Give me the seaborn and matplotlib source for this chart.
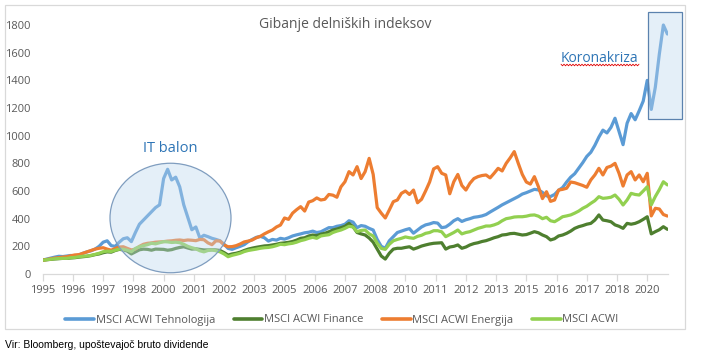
import numpy as np
import pandas as pd
import matplotlib
matplotlib.use("Agg")
import matplotlib.pyplot as plt
import seaborn as sns
from matplotlib.patches import Ellipse, Rectangle

# ---------------- data (bimonthly, Jan 1995 .. Nov 2020) ----------------
SERIES = ["MSCI ACWI Tehnologija", "MSCI ACWI Finance", "MSCI ACWI Energija", "MSCI ACWI"]
COLORS = ["#5B9BD5", "#4E7F2F", "#ED7D31", "#92D050"]

tech = [
    100, 108, 115, 122, 128, 126,      # 1995
    130, 134, 130, 138, 150, 160,      # 1996
    168, 180, 200, 230, 240, 205,      # 1997
    200, 230, 255, 262, 234, 300,      # 1998
    360, 390, 420, 450, 480, 500,      # 1999
    690, 757, 680, 700, 630, 500,      # 2000
    410, 320, 340, 260, 280, 270,      # 2001
    258, 250, 240, 215, 185, 178,      # 2002
    190, 200, 212, 234, 250, 265,      # 2003
    272, 262, 238, 250, 245, 258,      # 2004
    252, 262, 275, 283, 290, 298,      # 2005
    302, 310, 300, 305, 320, 335,      # 2006
    335, 345, 350, 360, 385, 375,      # 2007
    335, 350, 345, 330, 318, 250,      # 2008
    200, 186, 240, 270, 300, 310,      # 2009
    320, 328, 295, 318, 340, 355,      # 2010
    362, 372, 368, 335, 340, 360,      # 2011
    385, 400, 380, 392, 400, 410,      # 2012
    414, 420, 430, 448, 465, 482,      # 2013
    500, 515, 530, 545, 560, 578,      # 2014
    588, 600, 612, 608, 590, 565,      # 2015
    560, 575, 605, 625, 665, 700,      # 2016
    725, 765, 805, 850, 880, 930,      # 2017
    990, 1040, 1020, 1060, 1126, 1030, # 2018
    935, 1090, 1160, 1115, 1180, 1250, # 2019
    1400, 1190, 1350, 1590, 1800, 1735 # 2020
]

finance = [
    100, 103, 106, 109, 111, 113,
    113, 116, 118, 122, 125, 128,
    133, 140, 145, 154, 160, 158,
    170, 178, 175, 165, 145, 160,
    175, 180, 178, 172, 180, 179,
    178, 172, 176, 185, 192, 197,
    188, 180, 182, 178, 174, 174,
    175, 174, 170, 155, 137, 145,
    150, 158, 170, 180, 187, 193,
    198, 203, 205, 210, 215, 222,
    225, 229, 235, 245, 258, 262,
    275, 282, 278, 288, 294, 305,
    318, 325, 335, 345, 366, 342,
    300, 290, 282, 260, 230, 180,
    130, 108, 150, 180, 186, 186,
    192, 197, 180, 190, 202, 210,
    217, 222, 224, 226, 180, 195,
    200, 210, 186, 195, 210, 220,
    226, 235, 241, 251, 262, 270,
    282, 285, 292, 294, 288, 282,
    285, 295, 306, 298, 282, 270,
    246, 255, 275, 282, 294, 310,
    330, 342, 350, 360, 366, 390,
    427, 390, 385, 378, 355, 345,
    330, 366, 360, 366, 378, 395,
    414, 290, 306, 320, 342, 323
]

energy = [
    100, 105, 110, 115, 118, 122,
    125, 132, 138, 140, 150, 160,
    170, 180, 186, 190, 180, 172,
    185, 195, 197, 185, 174, 180,
    200, 215, 222, 225, 230, 232,
    234, 238, 240, 244, 246, 242,
    246, 244, 241, 250, 248, 225,
    212, 240, 238, 210, 197, 198,
    205, 217, 232, 238, 246, 262,
    272, 290, 305, 318, 340, 354,
    405, 395, 440, 465, 487, 455,
    520, 530, 550, 535, 540, 575,
    570, 555, 630, 667, 740, 716,
    776, 690, 740, 836, 720, 480,
    440, 405, 463, 523, 535, 583,
    600, 575, 607, 515, 540, 600,
    665, 760, 776, 728, 716, 580,
    667, 720, 640, 607, 656, 690,
    704, 712, 716, 695, 728, 764,
    745, 800, 840, 885, 800, 720,
    665, 650, 704, 631, 545, 595,
    525, 535, 607, 612, 620, 665,
    660, 650, 640, 627, 680, 716,
    764, 716, 770, 780, 800, 728,
    636, 716, 740, 680, 716, 667,
    728, 420, 475, 470, 430, 419
]

acwi = [
    100, 103, 107, 110, 112, 113,
    113, 118, 120, 125, 128, 130,
    135, 142, 150, 161, 165, 163,
    172, 180, 178, 172, 161, 185,
    197, 205, 212, 222, 218, 226,
    234, 232, 228, 230, 226, 215,
    200, 190, 182, 168, 160, 170,
    174, 168, 160, 145, 125, 135,
    142, 150, 162, 170, 175, 180,
    186, 190, 192, 197, 205, 215,
    212, 218, 222, 230, 241, 248,
    258, 265, 258, 275, 280, 284,
    300, 310, 318, 330, 345, 340,
    306, 315, 318, 290, 275, 222,
    185, 178, 215, 240, 250, 258,
    268, 262, 258, 272, 280, 294,
    300, 313, 313, 305, 270, 285,
    300, 318, 290, 300, 306, 318,
    330, 338, 347, 347, 355, 366,
    385, 400, 405, 412, 414, 414,
    418, 425, 427, 418, 400, 410,
    385, 378, 395, 414, 420, 427,
    440, 455, 475, 490, 511, 530,
    559, 547, 550, 555, 571, 540,
    499, 535, 583, 575, 571, 600,
    631, 500, 560, 610, 667, 644
]

YEAR_LABELS = ["1995", "1996", "1997", "1998", "2000", "2001", "2002", "2003",
               "2005", "2006", "2007", "2008", "2010", "2011", "2012", "2013",
               "2015", "2016", "2017", "2018", "2020"]
Y_TICKS = [0, 200, 400, 600, 800, 1000, 1200, 1400, 1600, 1800]

# ---------------- build table ----------------
dates = pd.date_range("1995-01-01", periods=len(tech), freq="2MS")
month_idx = (dates.year - 1995) * 12 + (dates.month - 1)
frames = []
for name, vals in zip(SERIES, [tech, finance, energy, acwi]):
    frames.append(pd.DataFrame({"m": month_idx, "value": vals, "series": name}))
df = pd.concat(frames, ignore_index=True)

# ---------------- figure ----------------
sns.set_theme(style="white")
plt.rcParams["font.family"] = ["Open Sans", "DejaVu Sans"]

W, H = 704, 357
fig = plt.figure(figsize=(W / 100, H / 100), dpi=100)
x0, x1 = 42.7, 668.0
y_zero, y_top = 274.0, 11.2
ax = fig.add_axes([x0 / W, (H - y_zero) / H, (x1 - x0) / W, (y_zero - y_top) / H])

sns.lineplot(data=df, x="m", y="value", hue="series", hue_order=SERIES,
             palette=COLORS, linewidth=2.3, ax=ax, sort=False)

ax.set_xlim(0, 310.3)
ax.set_ylim(0, 1900)
ax.set_xticks(np.arange(0, 15 * len(YEAR_LABELS), 15))
ax.set_xticklabels(YEAR_LABELS)
ax.set_yticks(Y_TICKS)
ax.set_yticklabels([str(v) for v in Y_TICKS])
ax.set_xlabel("")
ax.set_ylabel("")
for s in ["top", "right", "left"]:
    ax.spines[s].set_visible(False)
ax.spines["bottom"].set_color("#D9D9D9")
ax.spines["bottom"].set_linewidth(0.9)
ax.tick_params(axis="x", length=5, width=0.9, color="#D9D9D9", labelcolor="#595959",
               labelsize=8, pad=3, bottom=True)
ax.tick_params(axis="y", length=0, labelcolor="#595959", labelsize=8, pad=8.5)
ax.patch.set_alpha(0)

sns.move_legend(ax, "center", bbox_to_anchor=(342 / W, 1 - 320 / H),
                bbox_transform=fig.transFigure, ncol=4, frameon=False, title=None,
                fontsize=8, handlelength=2.6, handletextpad=0.15, columnspacing=1.65,
                labelcolor="#595959")
for lh in ax.get_legend().get_lines():
    lh.set_linewidth(2.6)

# ---------------- overlay (annotations in pixel space) ----------------
ov = fig.add_axes([0, 0, 1, 1], zorder=5)
ov.set_xlim(0, W)
ov.set_ylim(H, 0)
ov.axis("off")
ov.patch.set_alpha(0)

ov.add_patch(Rectangle((5, 5), 680, 324, fill=False, edgecolor="#D9D9D9", lw=0.9))

ov.text(345, 25, "Gibanje delniških indeksov", ha="center", va="center",
        fontsize=10, color="#595959")

ov.add_patch(Ellipse((170.5, 218), 121, 109.5, facecolor="#BDD7EE", alpha=0.4,
                     edgecolor="none"))
ov.add_patch(Ellipse((170.5, 218), 121, 109.5, fill=False, edgecolor="#7F9DBF", lw=0.9))
ov.text(170.5, 148, "IT balon", ha="center", va="center", fontsize=10.5, color="#2E75B6")

ov.add_patch(Rectangle((648, 12.3), 34, 107, facecolor="#BDD7EE", alpha=0.4,
                       edgecolor="none"))
ov.add_patch(Rectangle((648, 12.3), 34, 107, fill=False, edgecolor="#5B82AE", lw=0.9))
ov.text(599, 58, "Koronakriza", ha="center", va="center", fontsize=10, color="#2E75B6")
wx = np.arange(561, 640, 1.5)
wy = 65 + np.where(np.arange(len(wx)) % 2 == 0, -0.8, 0.8)
ov.plot(wx, wy, color="#E00000", lw=0.6)

fig.text(5 / W, 1 - 345 / H, "Vir: Bloomberg, upoštevajoč bruto dividende",
         family=["Liberation Sans", "DejaVu Sans"], fontsize=7.5, color="black",
         ha="left", va="center")

fig.savefig("out.png", dpi=100, facecolor="white")
